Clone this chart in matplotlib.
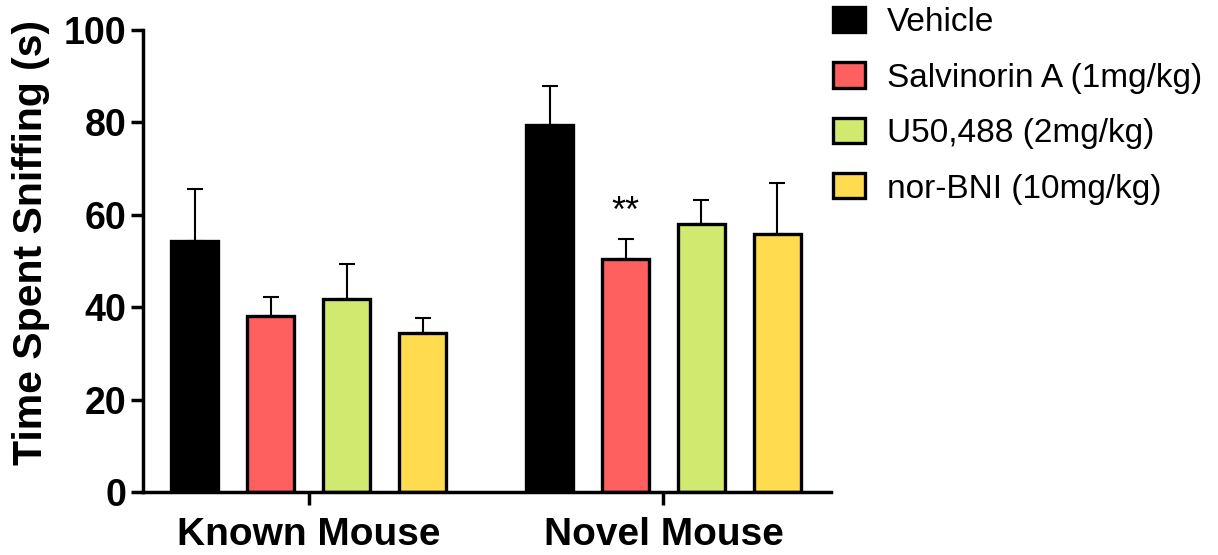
import numpy as np
import matplotlib.pyplot as plt

plt.rcParams['font.family'] = ['Liberation Sans', 'DejaVu Sans']

# Groups and treatments
groups = ['Known Mouse', 'Novel Mouse']
treatments = ['Vehicle', 'Salvinorin A (1mg/kg)', 'U50,488 (2mg/kg)', 'nor-BNI (10mg/kg)']
colors = ['#000000', '#FE5F5F', '#D1E96F', '#FFDB50']

# Mean time spent sniffing (s), one list per treatment: [known, novel]
vehicle = [54.3, 79.4]
salvinorin = [38.1, 50.5]
u50488 = [41.8, 57.9]
norbni = [34.4, 55.9]

# SEM (upper bars only)
vehicle_err = [11.2, 8.4]
salvinorin_err = [4.2, 4.3]
u50488_err = [7.5, 5.2]
norbni_err = [3.3, 10.9]

means = [vehicle, salvinorin, u50488, norbni]
errs = [vehicle_err, salvinorin_err, u50488_err, norbni_err]

group_x = np.array([0.0, 4.67])
offsets = [-1.5, -0.5, 0.5, 1.5]
width = 0.62

fig = plt.figure(figsize=(12.18, 5.55), dpi=100)
ax = fig.add_axes([0.1174, 0.1135, 0.5649, 0.8325])

for i in range(4):
    xs = group_x + offsets[i]
    ax.bar(xs, means[i], width, color=colors[i], edgecolor='black',
           linewidth=2.4, label=treatments[i], zorder=2)
    ax.errorbar(xs, means[i], yerr=[np.zeros(2), errs[i]], fmt='none',
                ecolor='black', elinewidth=1.5, capsize=6, capthick=1.5, zorder=1)

# significance marker over Salvinorin A, novel mouse
ax.text(group_x[1] - 0.5, means[1][1] + errs[1][1] + 2.0, '**',
        ha='center', va='bottom', fontsize=26)

ax.set_xlim(-2.18, 6.875)
ax.set_ylim(0, 100)
ax.set_yticks([0, 20, 40, 60, 80, 100])
ax.set_xticks(group_x)
ax.set_xticklabels(groups, fontsize=28, fontweight='bold')
ax.tick_params(axis='y', labelsize=27, width=2.5, length=9, pad=3)
ax.tick_params(axis='x', width=2.5, length=9, pad=9)
for lab in ax.get_yticklabels():
    lab.set_fontweight('bold')

ax.set_ylabel('Time Spent Sniffing (s)', fontsize=29.5, fontweight='bold')
ax.yaxis.set_label_coords(-0.135, 0.54)

ax.spines['top'].set_visible(False)
ax.spines['right'].set_visible(False)
ax.spines['left'].set_linewidth(2.5)
ax.spines['bottom'].set_linewidth(2.5)

fig.legend(loc='upper left', bbox_to_anchor=(833 / 1218, 1 - 7 / 555),
           frameon=False, fontsize=24, handlelength=0.96, handleheight=0.78,
           handletextpad=0.66, labelspacing=0.73, borderpad=0, borderaxespad=0)

plt.savefig('out.png', dpi=100)
